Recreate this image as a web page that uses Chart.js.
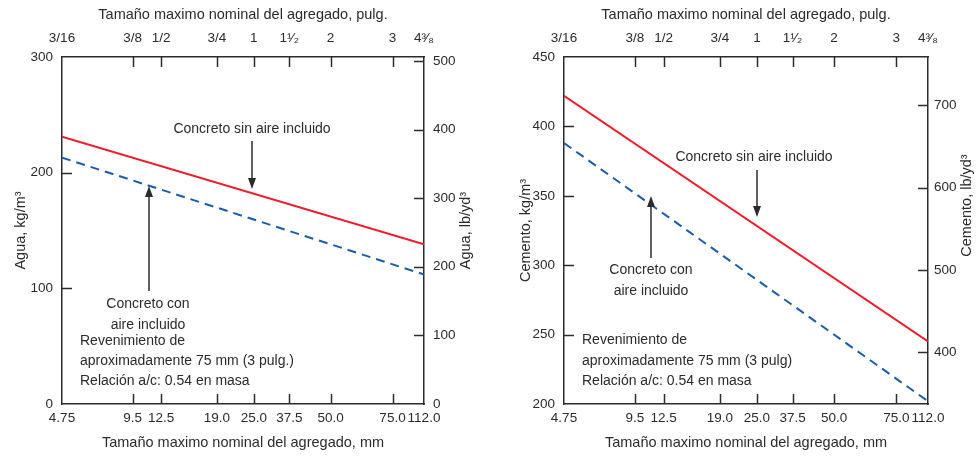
<!DOCTYPE html>
<html>
<head>
<meta charset="utf-8">
<script src="https://cdn.jsdelivr.net/npm/chart.js@4.4.1/dist/chart.umd.min.js"></script>
<style>
  html, body { margin: 0; padding: 0; background: #fff; }
  .wrap { position: relative; width: 979px; height: 456px; }
  .box { position: absolute; top: 0; height: 456px; }
  #agua { left: 0; width: 490px; }
  #cemento { left: 490px; width: 489px; }
</style>
</head>
<body>
<div class="wrap">
  <div class="box" id="agua"><canvas id="aguaChart"></canvas></div>
  <div class="box" id="cemento"><canvas id="cementoChart"></canvas></div>
</div>
<script>
// --- data ---
const sizes_mm = [4.75, 9.5, 12.5, 19, 25, 37.5, 50, 75, 112];
const mm_labels = ["4.75", "9.5", "12.5", "19.0", "25.0", "37.5", "50.0", "75.0", "112.0"];
const pulg_labels = ["3/16", "3/8", "1/2", "3/4", "1", "1\u00B9\u2044\u2082", "2", "3", "4\u00B3\u2044\u2088"];

const line_mm = [4.75, 112];
const agua_sin_aire = [231, 138];
const agua_con_aire = [213, 112];
const cemento_sin_aire = [422, 245];
const cemento_con_aire = [388, 202];

const agua_kg_ticks = [0, 100, 200, 300];
const agua_lb_ticks = [0, 100, 200, 300, 400, 500];
const cemento_kg_ticks = [200, 250, 300, 350, 400, 450];
const cemento_lb_ticks = [400, 500, 600, 700];

const KG_TO_LB = 1.6856;

// the size axis in the figure is hand spaced, not log: where each size sits (0..1)
const size_pos = [0, 0.195, 0.274, 0.428, 0.530, 0.628, 0.742, 0.913, 1];

function warp(mm) {
  for (let i = 1; i < sizes_mm.length; i++) {
    if (mm <= sizes_mm[i]) {
      const t = (mm - sizes_mm[i - 1]) / (sizes_mm[i] - sizes_mm[i - 1]);
      return size_pos[i - 1] + t * (size_pos[i] - size_pos[i - 1]);
    }
  }
  return 1;
}

const FONT = "'Liberation Sans Narrow', 'Liberation Sans', Arial, sans-serif";
const INK = "#2b2b2b";
const RED = "#ee1c2a";
const BLUE = "#1b5ca8";

Chart.defaults.font.family = FONT;
Chart.defaults.font.size = 13.5;
Chart.defaults.color = INK;

// inward tick marks on all four sides
const inwardTicks = {
  id: "inwardTicks",
  afterDraw(chart) {
    const { ctx, chartArea: a } = chart;
    ctx.save();
    ctx.strokeStyle = INK;
    ctx.lineWidth = 1.5;
    for (const id of ["x", "x2", "y", "y2"]) {
      const s = chart.scales[id];
      for (const t of s.ticks) {
        if (t.value <= s.min + 1e-6 || t.value >= s.max - 1e-6) continue;
        const p = Math.round(s.getPixelForValue(t.value)) + 0.5;
        ctx.beginPath();
        if (id === "x") { ctx.moveTo(p, a.bottom); ctx.lineTo(p, a.bottom - 10); }
        if (id === "x2") { ctx.moveTo(p, a.top); ctx.lineTo(p, a.top + 10); }
        if (id === "y") { ctx.moveTo(a.left, p); ctx.lineTo(a.left + 10, p); }
        if (id === "y2") { ctx.moveTo(a.right, p); ctx.lineTo(a.right - 10, p); }
        ctx.stroke();
      }
    }
    ctx.restore();
  }
};

// callouts, notes and the right hand (upward reading) axis title
const notes = {
  id: "notes",
  afterDraw(chart, args, o) {
    const { ctx } = chart;
    ctx.save();
    ctx.fillStyle = INK;
    ctx.strokeStyle = INK;
    ctx.font = "14px " + FONT;
    ctx.textBaseline = "middle";
    for (const t of o.texts) {
      ctx.textAlign = t.align || "center";
      ctx.fillText(t.text, t.x, t.y);
    }
    for (const ar of o.arrows) {
      const dir = ar.to > ar.from ? 1 : -1;
      ctx.lineWidth = 1.5;
      ctx.beginPath();
      ctx.moveTo(ar.x, ar.from);
      ctx.lineTo(ar.x, ar.to - dir * 8);
      ctx.stroke();
      ctx.beginPath();
      ctx.moveTo(ar.x, ar.to);
      ctx.lineTo(ar.x - 4, ar.to - dir * 11);
      ctx.lineTo(ar.x + 4, ar.to - dir * 11);
      ctx.closePath();
      ctx.fill();
    }
    const a = chart.chartArea;
    ctx.font = "14.5px " + FONT;
    ctx.translate(o.rightTitleX, (a.top + a.bottom) / 2 + (o.rightTitleDy || 0));
    ctx.rotate(-Math.PI / 2);
    ctx.textAlign = "center";
    ctx.fillText(o.rightTitle, 0, 0);
    ctx.restore();
  }
};

function sizeAxis(position, labels, title, tickPad, titlePad) {
  return {
    type: "linear",
    position: position,
    min: 0,
    max: 1,
    grid: { display: false, drawTicks: false },
    border: { display: true, color: INK, width: 1.5 },
    afterBuildTicks: s => { s.ticks = size_pos.map(v => ({ value: v })); },
    afterFit: s => { s.height = position === "top" ? 57 : 52; },
    ticks: {
      autoSkip: false,
      maxRotation: 0,
      padding: tickPad,
      callback: (v, i) => labels[i]
    },
    title: { display: true, text: title, padding: titlePad, font: { size: 14.5 } }
  };
}

function makeChart(canvasId, cfg) {
  const lo = cfg.kgTicks[0];
  const hi = cfg.kgTicks[cfg.kgTicks.length - 1];
  return new Chart(document.getElementById(canvasId), {
    type: "line",
    data: {
      datasets: [
        {
          data: line_mm.map((m, i) => ({ x: warp(m), y: cfg.sin[i] })),
          borderColor: RED,
          borderWidth: 2,
          xAxisID: "x",
          yAxisID: "y"
        },
        {
          data: line_mm.map((m, i) => ({ x: warp(m), y: cfg.con[i] })),
          borderColor: BLUE,
          borderWidth: 2,
          borderDash: [9, 6],
          xAxisID: "x",
          yAxisID: "y"
        }
      ]
    },
    options: {
      responsive: true,
      maintainAspectRatio: false,
      animation: false,
      layout: { padding: 0 },
      elements: { point: { radius: 0 }, line: { tension: 0 } },
      plugins: {
        legend: { display: false },
        tooltip: { enabled: false },
        notes: cfg.notes
      },
      scales: {
        x: sizeAxis("bottom", mm_labels, "Tama\u00F1o maximo nominal del agregado, mm", 6, { top: 0, bottom: 4 }),
        x2: sizeAxis("top", pulg_labels, "Tama\u00F1o maximo nominal del agregado, pulg.", 11, { top: 6, bottom: 0 }),
        y: {
          type: "linear",
          position: "left",
          min: lo,
          max: hi,
          grid: { display: false, drawTicks: false },
          border: { display: true, color: INK, width: 1.5 },
          afterBuildTicks: s => { s.ticks = cfg.kgTicks.map(v => ({ value: v })); },
          afterFit: s => { s.width = cfg.leftW; },
          ticks: { padding: 9 },
          title: { display: true, text: cfg.kgTitle, padding: { top: cfg.leftTitlePad }, font: { size: 14.5 } }
        },
        y2: {
          type: "linear",
          position: "right",
          min: lo * KG_TO_LB,
          max: hi * KG_TO_LB,
          grid: { display: false, drawTicks: false },
          border: { display: true, color: INK, width: 1.5 },
          afterBuildTicks: s => { s.ticks = cfg.lbTicks.map(v => ({ value: v })); },
          afterFit: s => { s.width = cfg.rightW; },
          ticks: { padding: cfg.rightPad }
        }
      }
    },
    plugins: [inwardTicks, notes]
  });
}

makeChart("aguaChart", {
  sin: agua_sin_aire,
  con: agua_con_aire,
  kgTicks: agua_kg_ticks,
  lbTicks: agua_lb_ticks,
  kgTitle: "Agua, kg/m\u00B3",
  leftW: 62,
  rightW: 66,
  rightPad: 9,
  leftTitlePad: 12,
  notes: {
    rightTitle: "Agua, lb/yd\u00B3",
    rightTitleX: 466,
    texts: [
      { text: "Concreto sin aire incluido", x: 252, y: 129 },
      { text: "Concreto con", x: 148, y: 304 },
      { text: "aire incluido", x: 148, y: 325 },
      { text: "Revenimiento de", x: 80, y: 341, align: "left" },
      { text: "aproximadamente 75 mm (3 pulg.)", x: 80, y: 361, align: "left" },
      { text: "Relaci\u00F3n a/c: 0.54 en masa", x: 80, y: 381, align: "left" }
    ],
    arrows: [
      { x: 252, from: 141, to: 189 },
      { x: 149, from: 291, to: 186 }
    ]
  }
});

makeChart("cementoChart", {
  sin: cemento_sin_aire,
  con: cemento_con_aire,
  kgTicks: cemento_kg_ticks,
  lbTicks: cemento_lb_ticks,
  kgTitle: "Cemento, kg/m\u00B3",
  leftW: 74,
  rightW: 51,
  rightPad: 6,
  leftTitlePad: 27,
  notes: {
    rightTitle: "Cemento, lb/yd\u00B3",
    rightTitleX: 477,
    rightTitleDy: -25,
    texts: [
      { text: "Concreto sin aire incluido", x: 264, y: 157 },
      { text: "Concreto con", x: 161, y: 270 },
      { text: "aire incluido", x: 161, y: 291 },
      { text: "Revenimiento de", x: 92, y: 340, align: "left" },
      { text: "aproximadamente 75 mm (3 pulg)", x: 92, y: 361, align: "left" },
      { text: "Relaci\u00F3n a/c: 0.54 en masa", x: 92, y: 381, align: "left" }
    ],
    arrows: [
      { x: 267, from: 170, to: 217 },
      { x: 161, from: 258, to: 196 }
    ]
  }
});
</script>
</body>
</html>
